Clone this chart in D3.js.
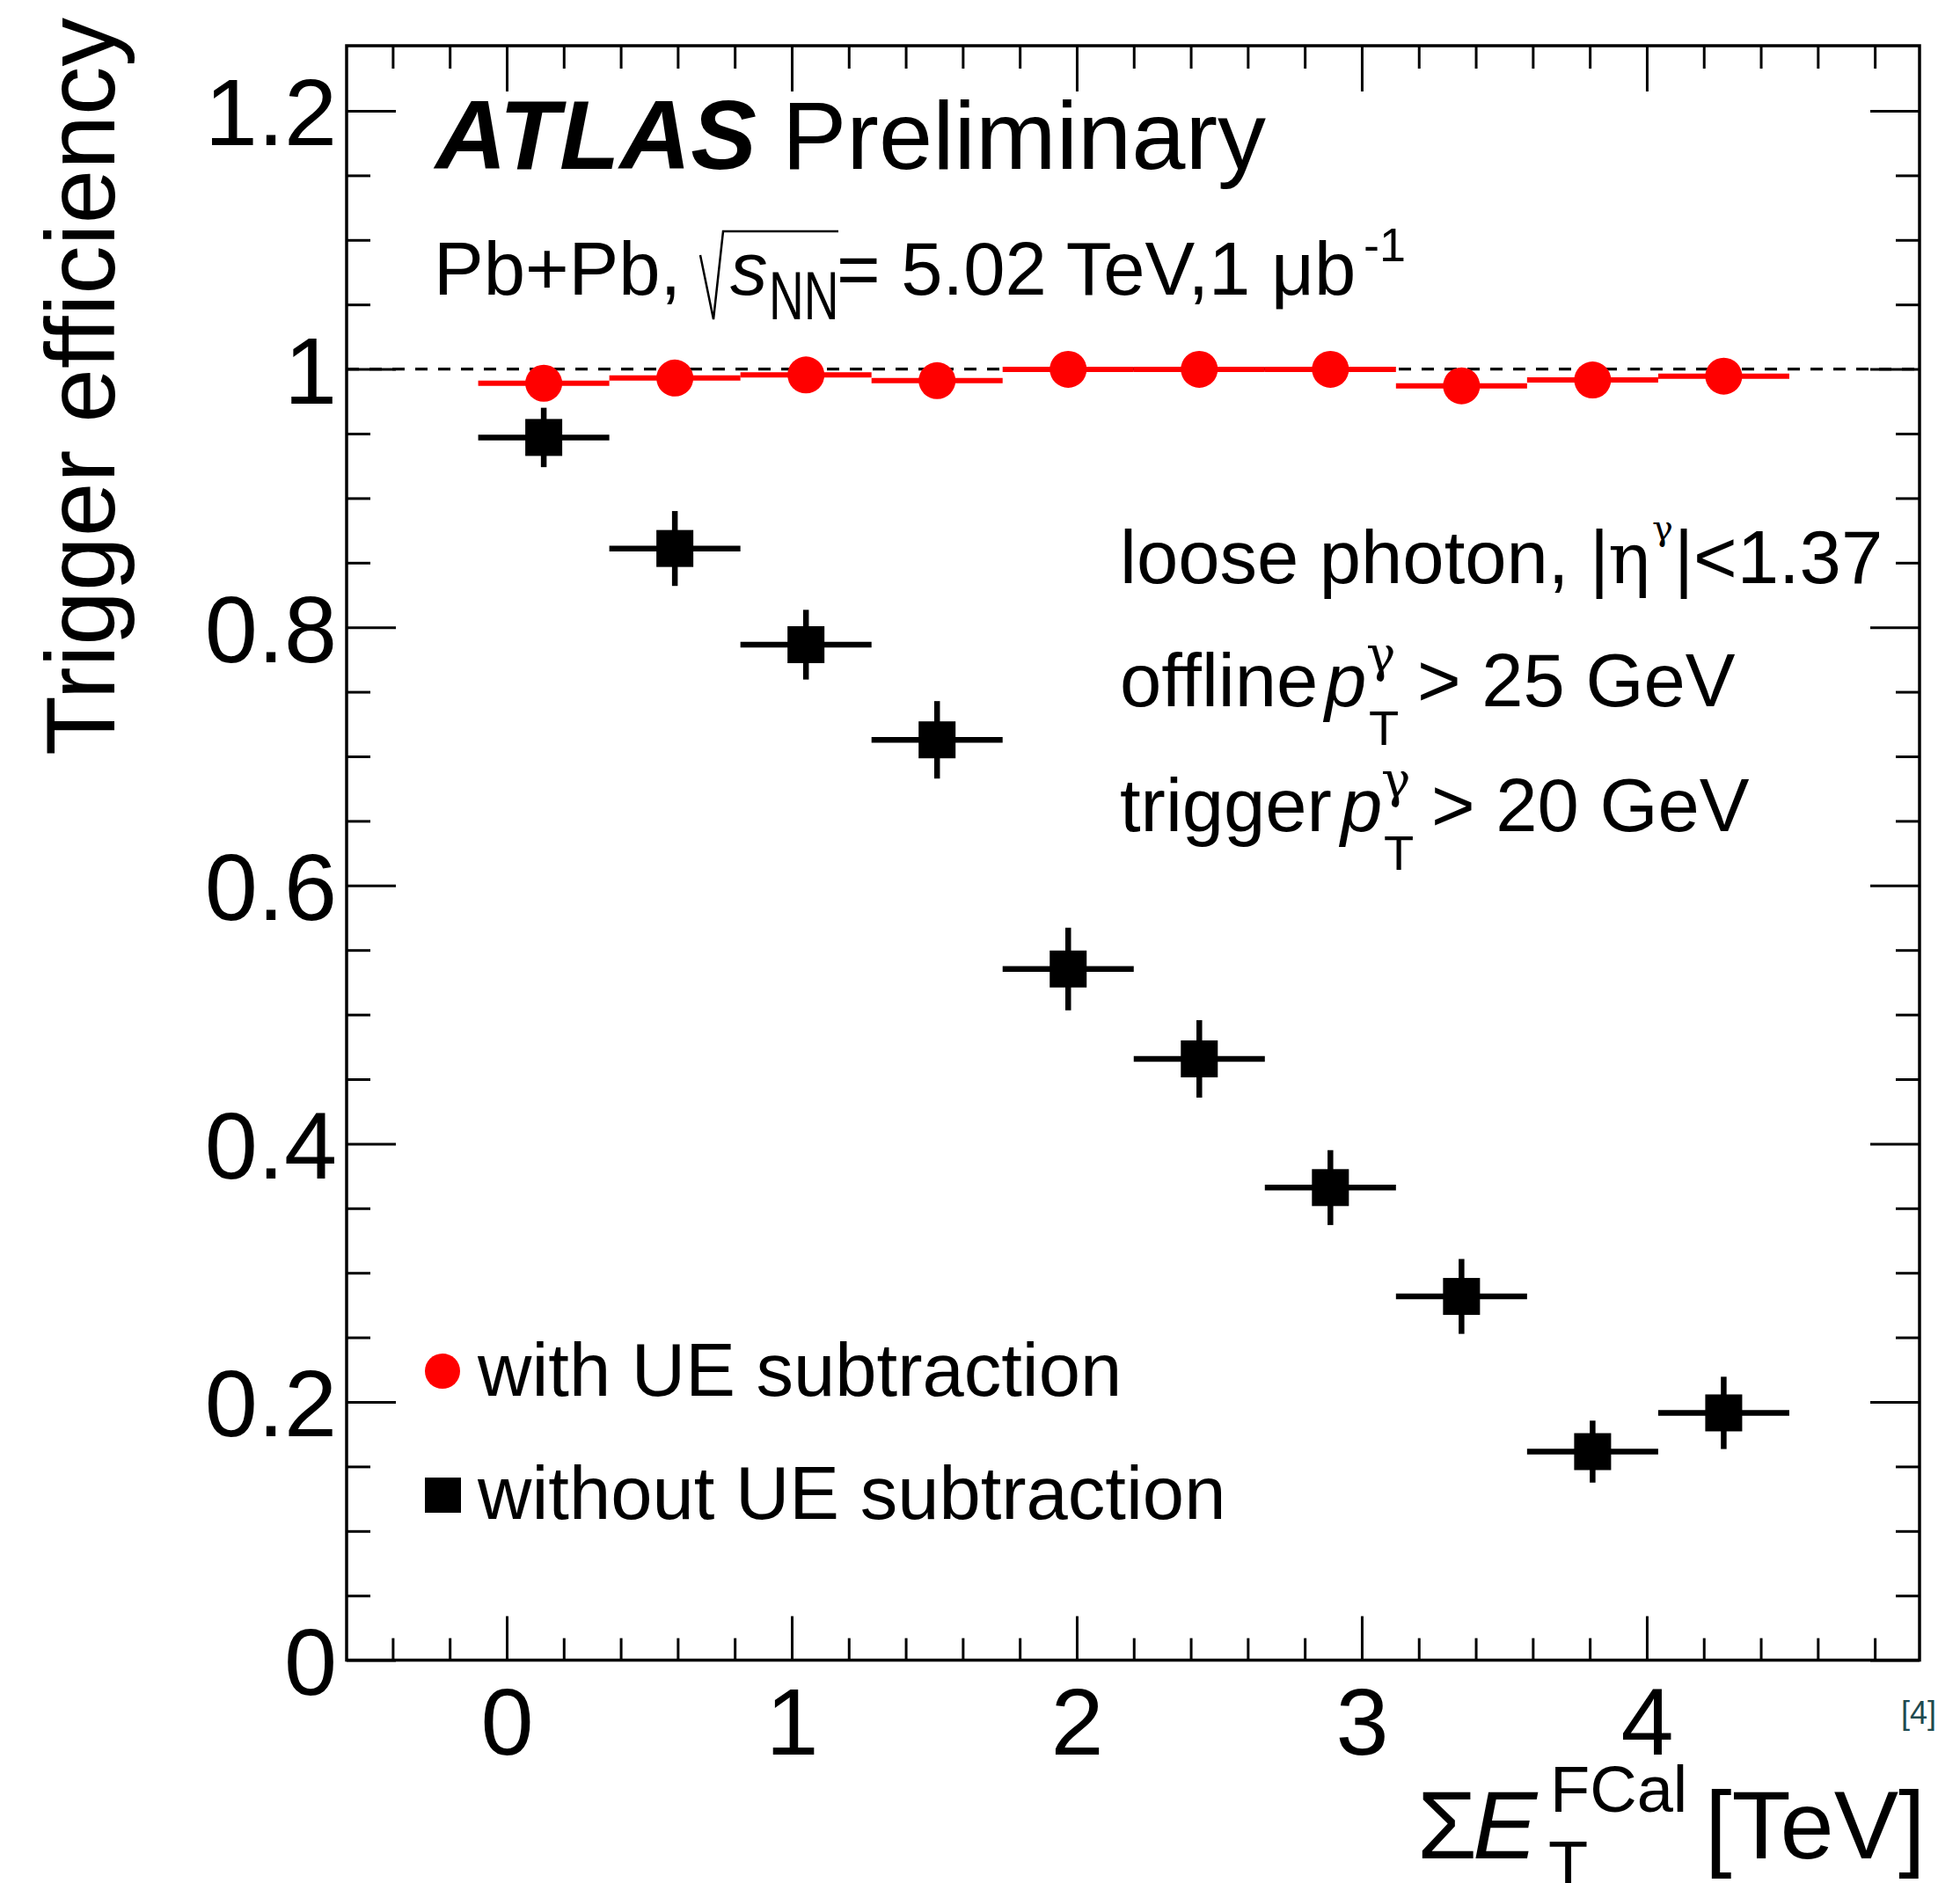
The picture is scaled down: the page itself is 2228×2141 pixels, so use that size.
<!DOCTYPE html>
<html>
<head>
<meta charset="utf-8">
<script src="https://cdn.jsdelivr.net/npm/d3@7"></script>
<style>
  body { margin: 0; background: #fff; }
  text { font-family: "Liberation Sans", Arial, Helvetica, sans-serif; fill: #000; }
  text.greek { font-family: "DejaVu Serif", "Liberation Serif", serif; }
</style>
</head>
<body>
<svg id="chart" width="2228" height="2141"></svg>
<script>
  // bins in sum E_T FCal [TeV]
  var binEdges   = [-0.1, 0.36, 0.82, 1.28, 1.74, 2.2, 2.66, 3.12, 3.58, 4.04, 4.5];
  // efficiency with UE subtraction (red circles)
  var effWithUE  = [0.989, 0.993, 0.9954, 0.991, 0.9998, 0.9998, 0.9998, 0.987, 0.9915, 0.9945];
  var errWithUE  = [0.004, 0.004, 0.004, 0.004, 0.003, 0.003, 0.003, 0.004, 0.004, 0.004];
  // efficiency without UE subtraction (black squares)
  var effNoUE    = [0.947, 0.861, 0.7865, 0.7128, 0.5353, 0.4657, 0.366, 0.2817, 0.1615, 0.1915];
  var errNoUE    = [0.023, 0.029, 0.027, 0.030, 0.032, 0.030, 0.029, 0.029, 0.024, 0.028];

  var xMajorTicks = [0, 1, 2, 3, 4];
  var xTickLabels = ["0", "1", "2", "3", "4"];
  var yMajorTicks = [0, 0.2, 0.4, 0.6, 0.8, 1, 1.2];
  var yTickLabels = ["0", "0.2", "0.4", "0.6", "0.8", "1", "1.2"];
  var legendLabels = ["with UE subtraction", "without UE subtraction"];

  // (window.top is read-only, so no "top" here)
  var padL = 394, padR = 2182, padT = 52, padB = 1887.6;

  var svg = d3.select("#chart");
  svg.append("rect").attr("width", 2228).attr("height", 2141).attr("fill", "#fff");

  var x = d3.scaleLinear().domain([-0.5617, 4.957]).range([padL, padR]);
  var y = d3.scaleLinear().domain([0, 1.2504]).range([padB, padT]);

  var xMinor = d3.range(-0.4, 4.95, 0.2).map(function(v){ return Math.round(v*10)/10; })
                 .filter(function(v){ return xMajorTicks.indexOf(v) < 0; });
  var yMinor = d3.range(0.05, 1.25, 0.05).map(function(v){ return Math.round(v*100)/100; })
                 .filter(function(v){ return Math.round(v*100) % 20 !== 0; });

  // ---- ticks on all four sides, pointing inward
  function tickSet(axisFn, scale, vals, size, transform) {
    var g = svg.append("g").attr("transform", transform)
      .call(axisFn(scale).tickValues(vals).tickSize(size).tickFormat(""));
    g.select(".domain").remove();
    g.selectAll("line").attr("stroke", "#000").attr("stroke-width", 3);
    return g;
  }
  tickSet(d3.axisBottom, x, xMinor, -25, "translate(0," + padB + ")");
  tickSet(d3.axisTop,    x, xMinor, -26, "translate(0," + padT + ")");
  tickSet(d3.axisTop,    x, xMajorTicks, -52, "translate(0," + padT + ")");
  tickSet(d3.axisLeft,   y, yMinor, -27, "translate(" + padL + ",0)");
  tickSet(d3.axisRight,  y, yMinor, -27, "translate(" + padR + ",0)");
  tickSet(d3.axisRight,  y, yMajorTicks, -56, "translate(" + padR + ",0)");

  var xAxis = svg.append("g").attr("transform", "translate(0," + padB + ")")
    .call(d3.axisBottom(x).tickValues(xMajorTicks).tickSize(-50).tickPadding(31)
      .tickFormat(function(d, i){ return xTickLabels[i]; }));
  xAxis.select(".domain").remove();
  xAxis.selectAll("line").attr("stroke", "#000").attr("stroke-width", 3);
  xAxis.selectAll("text").attr("font-size", 108).attr("fill", "#000")
    .attr("font-family", "Liberation Sans, Arial, sans-serif");

  var yAxis = svg.append("g").attr("transform", "translate(" + padL + ",0)")
    .call(d3.axisLeft(y).tickValues(yMajorTicks).tickSize(-56).tickPadding(11)
      .tickFormat(function(d, i){ return yTickLabels[i]; }));
  yAxis.select(".domain").remove();
  yAxis.selectAll("line").attr("stroke", "#000").attr("stroke-width", 3);
  yAxis.selectAll("text").attr("font-size", 108).attr("fill", "#000").attr("dy", "0.36em")
    .attr("font-family", "Liberation Sans, Arial, sans-serif");

  // frame
  svg.append("rect").attr("x", padL).attr("y", padT)
    .attr("width", padR - padL).attr("height", padB - padT)
    .attr("fill", "none").attr("stroke", "#000").attr("stroke-width", 3.5);

  // dashed line at efficiency = 1
  svg.append("line").attr("x1", padL).attr("x2", padR)
    .attr("y1", y(1)).attr("y2", y(1))
    .attr("stroke", "#000").attr("stroke-width", 3.2).attr("stroke-dasharray", "14,12");

  // ---- data
  var bins = effNoUE.map(function(v, i){
    return { lo: binEdges[i], hi: binEdges[i+1], c: (binEdges[i] + binEdges[i+1]) / 2,
             red: effWithUE[i], redErr: errWithUE[i], blk: v, blkErr: errNoUE[i] };
  });

  var gRed = svg.append("g");
  gRed.selectAll(".hbar").data(bins).enter().append("line")
    .attr("x1", function(d){ return x(d.lo); }).attr("x2", function(d){ return x(d.hi); })
    .attr("y1", function(d){ return y(d.red); }).attr("y2", function(d){ return y(d.red); })
    .attr("stroke", "#ff0000").attr("stroke-width", 6);
  gRed.selectAll(".vbar").data(bins).enter().append("line")
    .attr("x1", function(d){ return x(d.c); }).attr("x2", function(d){ return x(d.c); })
    .attr("y1", function(d){ return y(d.red - d.redErr); }).attr("y2", function(d){ return y(d.red + d.redErr); })
    .attr("stroke", "#ff0000").attr("stroke-width", 6);
  gRed.selectAll("circle").data(bins).enter().append("circle")
    .attr("cx", function(d){ return x(d.c); }).attr("cy", function(d){ return y(d.red); })
    .attr("r", 21).attr("fill", "#ff0000");

  var gBlk = svg.append("g");
  gBlk.selectAll(".hbar").data(bins).enter().append("line")
    .attr("x1", function(d){ return x(d.lo); }).attr("x2", function(d){ return x(d.hi); })
    .attr("y1", function(d){ return y(d.blk); }).attr("y2", function(d){ return y(d.blk); })
    .attr("stroke", "#000").attr("stroke-width", 6.5);
  gBlk.selectAll(".vbar").data(bins).enter().append("line")
    .attr("x1", function(d){ return x(d.c); }).attr("x2", function(d){ return x(d.c); })
    .attr("y1", function(d){ return y(d.blk - d.blkErr); }).attr("y2", function(d){ return y(d.blk + d.blkErr); })
    .attr("stroke", "#000").attr("stroke-width", 6.5);
  gBlk.selectAll("rect").data(bins).enter().append("rect")
    .attr("x", function(d){ return x(d.c) - 21; }).attr("y", function(d){ return y(d.blk) - 21; })
    .attr("width", 42).attr("height", 42).attr("fill", "#000");

  // ---- axis titles
  svg.append("text").attr("transform", "translate(130,20) rotate(-90)")
    .attr("text-anchor", "end").attr("font-size", 111).text("Trigger efficiency");

  function txt(xp, yp, size, s, extra) {
    var t = svg.append("text").attr("x", xp).attr("y", yp).attr("font-size", size).text(s);
    if (extra) extra(t);
    return t;
  }
  var ital = function(t){ t.attr("font-style", "italic"); };
  var greek = function(t){ t.attr("class", "greek"); };

  txt(1611, 2113, 110, "\u03A3");
  txt(1674, 2113, 110, "E", ital);
  txt(1762, 2060, 74, "FCal");
  txt(1760, 2145, 74, "T");
  txt(1938, 2113, 110, "[TeV]");

  // ---- ATLAS label
  txt(495, 192, 112, "ATLAS", function(t){ t.attr("font-style", "italic").attr("font-weight", "bold"); });
  txt(889, 192, 110, "Preliminary");

  // Pb+Pb line
  txt(493, 335, 85, "Pb+Pb,");
  svg.append("path").attr("d", "M796,290 L811,363 L822,263 L953,263")
    .attr("fill", "none").attr("stroke", "#000").attr("stroke-width", 2.5);
  txt(830, 335, 85, "s", ital);
  svg.append("text").attr("transform", "translate(874,363) scale(1,1.4)")
    .attr("font-size", 55).text("NN");
  txt(951, 335, 85, "= 5.02 TeV,1 \u03BCb");
  txt(1550, 297, 54, "-1");

  // selection text
  txt(1273, 663, 85, "loose photon, |");
  txt(1828, 663, 80, "\u03B7", greek);
  txt(1878, 614, 40, "\u03B3", greek);
  txt(1903, 663, 85, "|<1.37");

  txt(1273, 803, 85, "offline");
  txt(1506, 803, 85, "p", ital);
  txt(1553, 763, 56, "\u03B3", greek);
  txt(1556, 847, 56, "T");
  txt(1611, 803, 85, "> 25 GeV");

  txt(1273, 945, 85, "trigger");
  txt(1524, 945, 85, "p", ital);
  txt(1570, 906, 56, "\u03B3", greek);
  txt(1573, 989, 56, "T");
  txt(1627, 945, 85, "> 20 GeV");

  // ---- legend
  svg.append("circle").attr("cx", 503).attr("cy", 1559).attr("r", 20).attr("fill", "#ff0000");
  txt(543, 1587, 85, legendLabels[0]);
  svg.append("rect").attr("x", 483).attr("y", 1680).attr("width", 41).attr("height", 40).attr("fill", "#000");
  txt(543, 1727, 85, legendLabels[1]);

  // reference marker
  svg.append("text").attr("x", 2161).attr("y", 1960).attr("font-size", 36)
    .attr("font-family", "DejaVu Sans Condensed, DejaVu Sans, sans-serif").attr("font-weight", 300)
    .style("fill", "#1f4a50").text("[4]");
</script>
</body>
</html>
